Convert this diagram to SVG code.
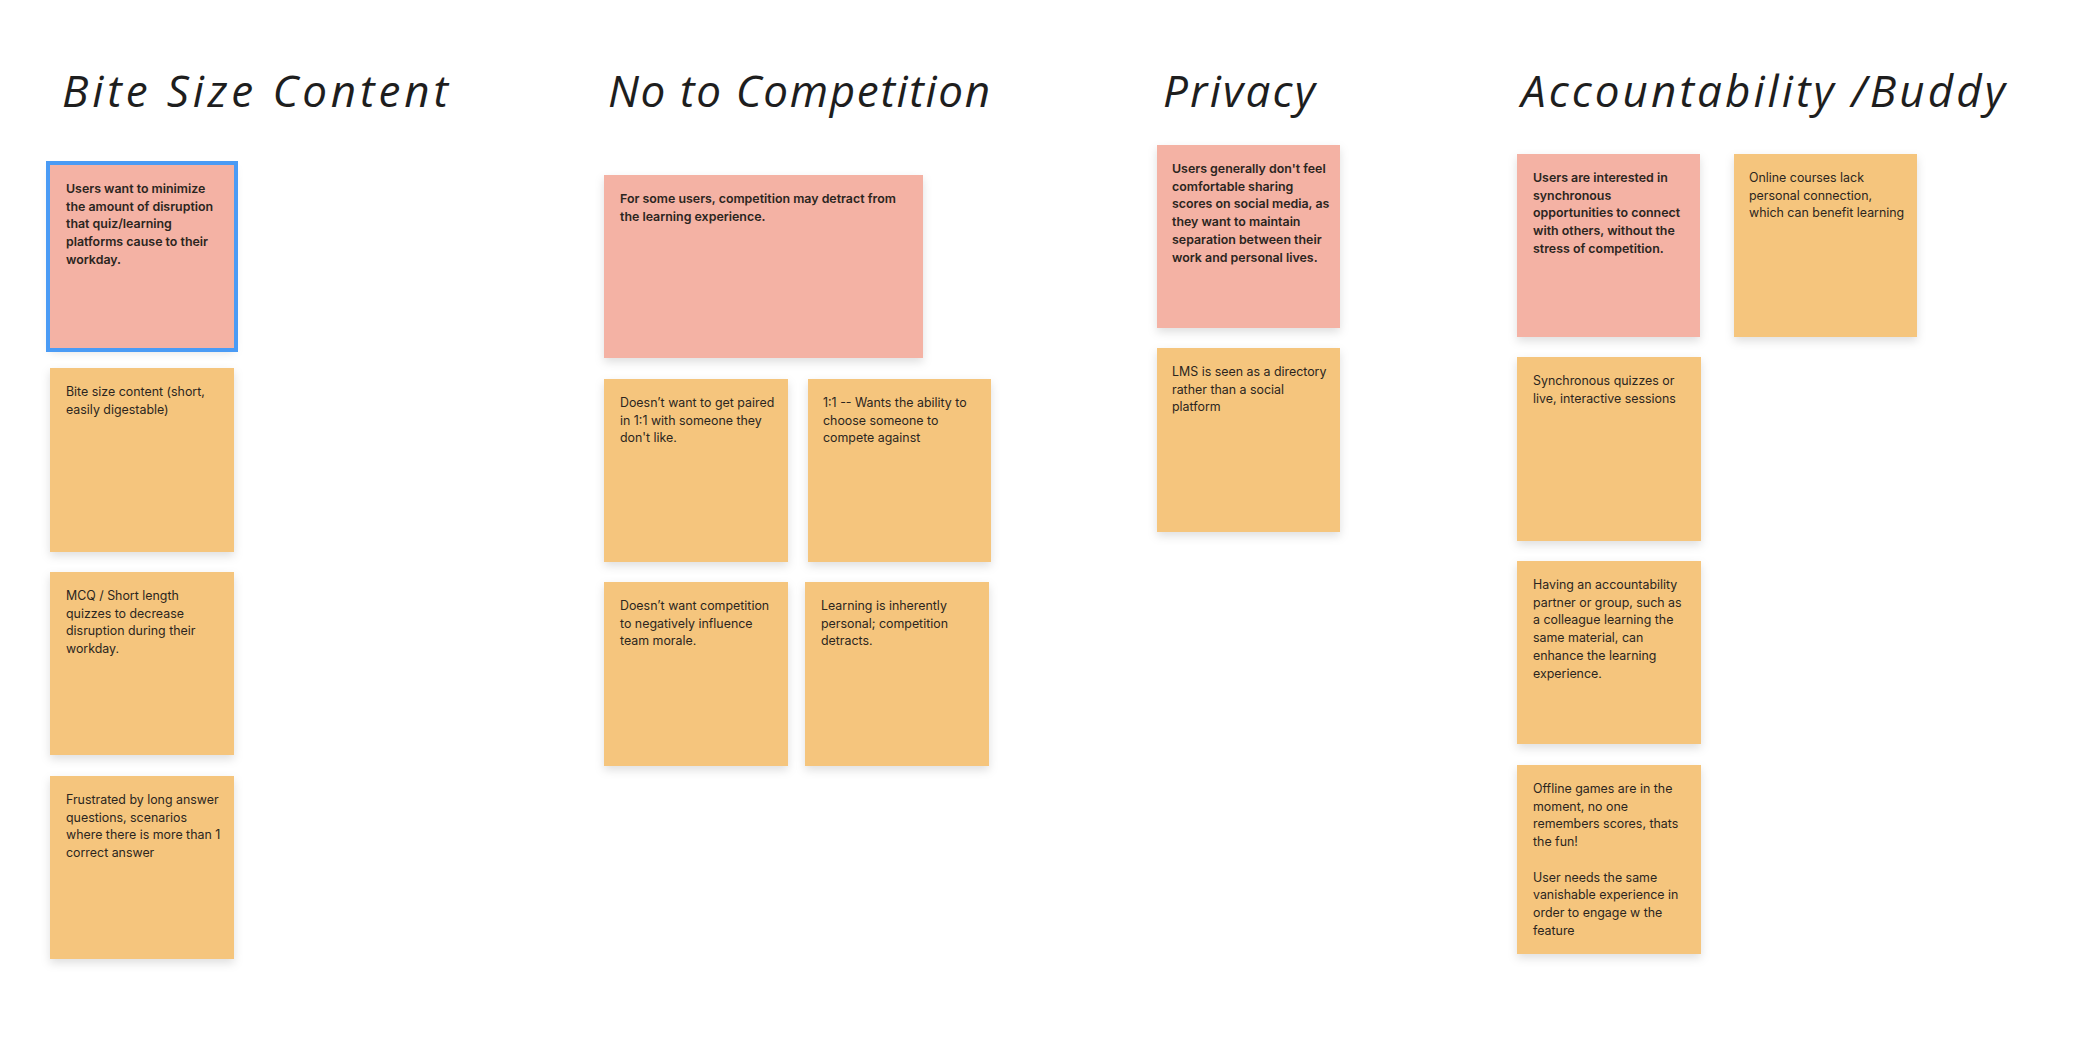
<svg xmlns="http://www.w3.org/2000/svg" width="2080" height="1044" viewBox="0 0 2080 1044">
<defs>
<filter id="sh" x="-20%" y="-20%" width="140%" height="150%">
<feDropShadow dx="0" dy="4" stdDeviation="5" flood-color="#000" flood-opacity="0.13"/>
</filter>
<style>
.pink{fill:#F4B2A4;filter:url(#sh)}
.org{fill:#F5C57D;filter:url(#sh)}
.sel{fill:none;stroke:#4A9BF5;stroke-width:4}
.t{font-family:Inter,"Liberation Sans",sans-serif;font-size:12.4px;fill:#2B2520}
.b{font-weight:600}
.title{font-family:"Open Sans","Liberation Sans",sans-serif;font-style:italic;font-size:44px;fill:#1E1E1E;font-weight:400}
</style>
</defs>
<rect width="2080" height="1044" fill="#FFFFFF"/>

<g id="titles">
<text class="title" x="62" y="107" textLength="386" lengthAdjust="spacing">Bite Size Content</text>
<text class="title" x="608" y="107" textLength="382" lengthAdjust="spacing">No to Competition</text>
<text class="title" x="1163" y="107" textLength="152" lengthAdjust="spacing">Privacy</text>
<text class="title" x="1521" y="107" textLength="484" lengthAdjust="spacing">Accountability /Buddy</text>
</g>

<g id="note-b1">
<rect class="pink" x="50" y="165" width="184" height="183"/>
<rect class="sel" x="48" y="163" width="188" height="187"/>
<text class="t b" x="66" y="193"><tspan x="66">Users want to minimize</tspan><tspan x="66" dy="17.7">the amount of disruption</tspan><tspan x="66" dy="17.7">that quiz/learning</tspan><tspan x="66" dy="17.7">platforms cause to their</tspan><tspan x="66" dy="17.7">workday.</tspan></text>
</g>
<g id="note-b2">
<rect class="org" x="50" y="368" width="184" height="184"/>
<text class="t" x="66" y="396"><tspan x="66">Bite size content (short,</tspan><tspan x="66" dy="17.7">easily digestable)</tspan></text>
</g>
<g id="note-b3">
<rect class="org" x="50" y="572" width="184" height="183"/>
<text class="t" x="66" y="600"><tspan x="66">MCQ / Short length</tspan><tspan x="66" dy="17.7">quizzes to decrease</tspan><tspan x="66" dy="17.7">disruption during their</tspan><tspan x="66" dy="17.7">workday.</tspan></text>
</g>
<g id="note-b4">
<rect class="org" x="50" y="776" width="184" height="183"/>
<text class="t" x="66" y="804"><tspan x="66">Frustrated by long answer</tspan><tspan x="66" dy="17.7">questions, scenarios</tspan><tspan x="66" dy="17.7">where there is more than 1</tspan><tspan x="66" dy="17.7">correct answer</tspan></text>
</g>

<g id="note-c1">
<rect class="pink" x="604" y="175" width="319" height="183"/>
<text class="t b" x="620" y="203"><tspan x="620">For some users, competition may detract from</tspan><tspan x="620" dy="17.7">the learning experience.</tspan></text>
</g>
<g id="note-c2">
<rect class="org" x="604" y="379" width="184" height="183"/>
<text class="t" x="620" y="407"><tspan x="620">Doesn’t want to get paired</tspan><tspan x="620" dy="17.7">in 1:1 with someone they</tspan><tspan x="620" dy="17.7">don't like.</tspan></text>
</g>
<g id="note-c3">
<rect class="org" x="808" y="379" width="183" height="183"/>
<text class="t" x="823" y="407"><tspan x="823">1:1 -- Wants the ability to</tspan><tspan x="823" dy="17.7">choose someone to</tspan><tspan x="823" dy="17.7">compete against</tspan></text>
</g>
<g id="note-c4">
<rect class="org" x="604" y="582" width="184" height="184"/>
<text class="t" x="620" y="610"><tspan x="620">Doesn’t want competition</tspan><tspan x="620" dy="17.7">to negatively influence</tspan><tspan x="620" dy="17.7">team morale.</tspan></text>
</g>
<g id="note-c5">
<rect class="org" x="805" y="582" width="184" height="184"/>
<text class="t" x="821" y="610"><tspan x="821">Learning is inherently</tspan><tspan x="821" dy="17.7">personal; competition</tspan><tspan x="821" dy="17.7">detracts.</tspan></text>
</g>

<g id="note-p1">
<rect class="pink" x="1157" y="145" width="183" height="183"/>
<text class="t b" x="1172" y="173"><tspan x="1172">Users generally don't feel</tspan><tspan x="1172" dy="17.7">comfortable sharing</tspan><tspan x="1172" dy="17.7">scores on social media, as</tspan><tspan x="1172" dy="17.7">they want to maintain</tspan><tspan x="1172" dy="17.7">separation between their</tspan><tspan x="1172" dy="17.7">work and personal lives.</tspan></text>
</g>
<g id="note-p2">
<rect class="org" x="1157" y="348" width="183" height="184"/>
<text class="t" x="1172" y="376"><tspan x="1172">LMS is seen as a directory</tspan><tspan x="1172" dy="17.7">rather than a social</tspan><tspan x="1172" dy="17.7">platform</tspan></text>
</g>

<g id="note-a1">
<rect class="pink" x="1517" y="154" width="183" height="183"/>
<text class="t b" x="1533" y="182"><tspan x="1533">Users are interested in</tspan><tspan x="1533" dy="17.7">synchronous</tspan><tspan x="1533" dy="17.7">opportunities to connect</tspan><tspan x="1533" dy="17.7">with others, without the</tspan><tspan x="1533" dy="17.7">stress of competition.</tspan></text>
</g>
<g id="note-a2">
<rect class="org" x="1734" y="154" width="183" height="183"/>
<text class="t" x="1749" y="182"><tspan x="1749">Online courses lack</tspan><tspan x="1749" dy="17.7">personal connection,</tspan><tspan x="1749" dy="17.7">which can benefit learning</tspan></text>
</g>
<g id="note-a3">
<rect class="org" x="1517" y="357" width="184" height="184"/>
<text class="t" x="1533" y="385"><tspan x="1533">Synchronous quizzes or</tspan><tspan x="1533" dy="17.7">live, interactive sessions</tspan></text>
</g>
<g id="note-a4">
<rect class="org" x="1517" y="561" width="184" height="183"/>
<text class="t" x="1533" y="589"><tspan x="1533">Having an accountability</tspan><tspan x="1533" dy="17.7">partner or group, such as</tspan><tspan x="1533" dy="17.7">a colleague learning the</tspan><tspan x="1533" dy="17.7">same material, can</tspan><tspan x="1533" dy="17.7">enhance the learning</tspan><tspan x="1533" dy="17.7">experience.</tspan></text>
</g>
<g id="note-a5">
<rect class="org" x="1517" y="765" width="184" height="189"/>
<text class="t" x="1533" y="793"><tspan x="1533">Offline games are in the</tspan><tspan x="1533" dy="17.7">moment, no one</tspan><tspan x="1533" dy="17.7">remembers scores, thats</tspan><tspan x="1533" dy="17.7">the fun!</tspan><tspan x="1533" dy="35.4">User needs the same</tspan><tspan x="1533" dy="17.7">vanishable experience in</tspan><tspan x="1533" dy="17.7">order to engage w the</tspan><tspan x="1533" dy="17.7">feature</tspan></text>
</g>
</svg>
